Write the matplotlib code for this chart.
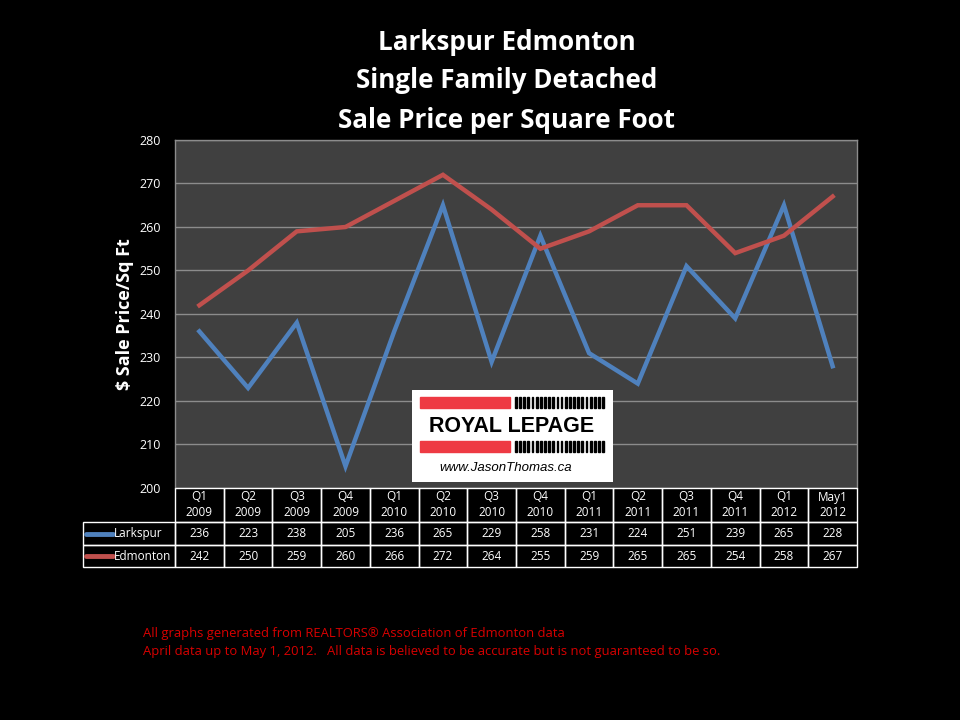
import matplotlib
matplotlib.use('Agg')
import matplotlib.pyplot as plt
from matplotlib.patches import Rectangle

quarters = ["Q1\n2009", "Q2\n2009", "Q3\n2009", "Q4\n2009", "Q1\n2010", "Q2\n2010", "Q3\n2010",
            "Q4\n2010", "Q1\n2011", "Q2\n2011", "Q3\n2011", "Q4\n2011", "Q1\n2012", "May1\n2012"]
larkspur = [236, 223, 238, 205, 236, 265, 229, 258, 231, 224, 251, 239, 265, 228]
edmonton = [242, 250, 259, 260, 266, 272, 264, 255, 259, 265, 265, 254, 258, 267]
series_names = ["Larkspur", "Edmonton"]
colors = ["#4f81bd", "#c0504d"]

plt.rcParams['font.family'] = ['Open Sans', 'DejaVu Sans']

W, H = 960, 720
fig = plt.figure(figsize=(9.6, 7.2), dpi=100, facecolor='black')

def fx(px):
    return px / W

def fy(py):
    return 1 - py / H

# plot area
left, right, top, bottom = 175, 857, 140, 488
ax = fig.add_axes([fx(left), fy(bottom), fx(right - left), (bottom - top) / H])
ax.set_facecolor('#404040')
n = len(quarters)
xs = [i + 0.5 for i in range(n)]
ax.plot(xs, larkspur, color=colors[0], lw=3.2, solid_joinstyle='miter', zorder=3)
ax.plot(xs, edmonton, color=colors[1], lw=3.2, solid_joinstyle='miter', zorder=3)
ax.set_xlim(0, n)
ax.set_ylim(200, 280)
ax.set_yticks(range(200, 281, 10))
ax.set_xticks([])
ax.grid(axis='y', color='#8c8c8c', lw=1)
ax.set_axisbelow(True)
ax.tick_params(axis='y', colors='white', labelsize=9, length=0, pad=10)
for s in ax.spines.values():
    s.set_color('#8c8c8c')
    s.set_linewidth(1)
ax.spines['bottom'].set_visible(False)
ax.set_ylabel("$ Sale Price/Sq Ft", color='white', fontsize=13, fontweight='bold', labelpad=4)

# logo
lx0, ly0, lx1, ly1 = 412, 390, 613, 482
lg = fig.add_axes([fx(lx0), fy(ly1), fx(lx1 - lx0), (ly1 - ly0) / H])
lg.set_xlim(lx0, lx1)
lg.set_ylim(ly1, ly0)
lg.axis('off')
lg.add_patch(Rectangle((lx0, ly0), lx1 - lx0, ly1 - ly0, color='white'))
for yb in (397, 441):
    lg.add_patch(Rectangle((420, yb), 90, 11, color='#ee3a43'))
    for k in range(22):
        lg.add_patch(Rectangle((515 + k * 4.15, yb), 1.8, 11, color='black'))
lg.text(512, 426, "ROYAL LEPAGE", ha='center', va='center', fontsize=15.5,
        fontweight='bold', color='black', family='Liberation Sans')
lg.text(506, 468, "www.JasonThomas.ca", ha='center', va='center', fontsize=9.5,
        style='italic', color='black', family='Liberation Sans')

# data table
tb = fig.add_axes([0, 0, 1, 1])
tb.set_xlim(0, W)
tb.set_ylim(H, 0)
tb.axis('off')
colw = (right - left) / n
rows = [488, 522, 545, 567]
lab_left = 83
for i in range(n):
    cx = left + i * colw
    tb.add_patch(Rectangle((cx, rows[0]), colw, rows[1] - rows[0], fill=False, ec='white', lw=1))
    tb.text(cx + colw / 2, (rows[0] + rows[1]) / 2, quarters[i], ha='center', va='center',
            color='white', fontsize=8.5, linespacing=1.3)
    for r, vals in enumerate((larkspur, edmonton)):
        tb.add_patch(Rectangle((cx, rows[r + 1]), colw, rows[r + 2] - rows[r + 1],
                               fill=False, ec='white', lw=1))
        tb.text(cx + colw / 2, (rows[r + 1] + rows[r + 2]) / 2, str(vals[i]), ha='center',
                va='center', color='white', fontsize=8.5)
for r in range(2):
    y0, y1 = rows[r + 1], rows[r + 2]
    tb.add_patch(Rectangle((lab_left, y0), left - lab_left, y1 - y0, fill=False, ec='white', lw=1))
    ym = (y0 + y1) / 2
    tb.plot([86, 113], [ym, ym], color=colors[r], lw=3.5, solid_capstyle='round')
    tb.text(114, ym, series_names[r], ha='left', va='center', color='white', fontsize=8.5)

# titles
for txt, yy in (("Larkspur Edmonton", 42), ("Single Family Detached", 81),
                ("Sale Price per Square Foot", 120)):
    fig.text(fx(507), fy(yy), txt, ha='center', va='center', color='white',
             fontsize=18.7, fontweight='bold')

# footer
fig.text(fx(143), fy(634), "All graphs generated from REALTORS\u00ae Association of Edmonton data",
         color='#d80000', fontsize=9.4, va='center')
fig.text(fx(143), fy(651), "April data up to May 1, 2012.   All data is believed to be accurate but is not guaranteed to be so.",
         color='#d80000', fontsize=9.4, va='center')

fig.savefig('out.png', dpi=100, facecolor='black')
